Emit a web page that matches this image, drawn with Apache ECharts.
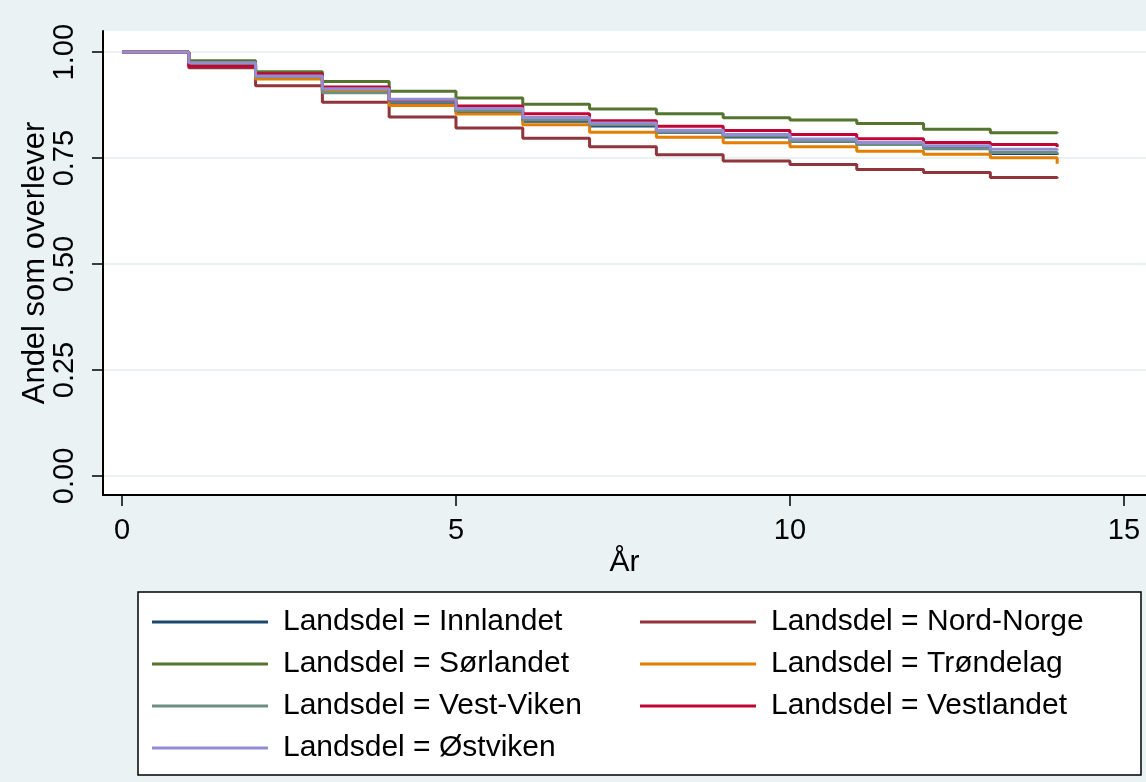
<!DOCTYPE html>
<html>
<head>
<meta charset="utf-8">
<script src="https://cdn.jsdelivr.net/npm/echarts@6/dist/echarts.min.js"></script>
<style>html,body{margin:0;padding:0;background:#eaf2f3}#c{width:1146px;height:782px}</style>
</head>
<body>
<div id="c"></div>
<script>
// Time points (years)
const years = [0, 1, 2, 3, 4, 5, 6, 7, 8, 9, 10, 11, 12, 13, 14];
// Kaplan-Meier survival estimates per region
const innlandet  = [1, 0.971, 0.941, 0.910, 0.882, 0.859, 0.837, 0.826, 0.811, 0.800, 0.790, 0.783, 0.775, 0.761, 0.758];
const nordNorge  = [1, 0.963, 0.921, 0.882, 0.847, 0.821, 0.797, 0.777, 0.758, 0.743, 0.735, 0.723, 0.716, 0.704, 0.702];
const sorlandet  = [1, 0.980, 0.954, 0.931, 0.908, 0.892, 0.877, 0.866, 0.855, 0.845, 0.840, 0.832, 0.818, 0.810, 0.808];
const trondelag  = [1, 0.969, 0.937, 0.908, 0.874, 0.854, 0.829, 0.811, 0.799, 0.786, 0.777, 0.766, 0.759, 0.751, 0.737];
const vestViken  = [1, 0.972, 0.942, 0.904, 0.884, 0.862, 0.840, 0.829, 0.812, 0.802, 0.791, 0.782, 0.772, 0.763, 0.760];
const vestlandet = [1, 0.967, 0.949, 0.918, 0.888, 0.873, 0.855, 0.838, 0.825, 0.815, 0.806, 0.796, 0.787, 0.782, 0.776];
const ostviken   = [1, 0.975, 0.944, 0.914, 0.889, 0.867, 0.846, 0.833, 0.816, 0.806, 0.795, 0.787, 0.779, 0.771, 0.768];

const seriesNames = ['Landsdel = Innlandet', 'Landsdel = Nord-Norge', 'Landsdel = Sørlandet', 'Landsdel = Trøndelag',
                     'Landsdel = Vest-Viken', 'Landsdel = Vestlandet', 'Landsdel = Østviken'];
const seriesValues = [innlandet, nordNorge, sorlandet, trondelag, vestViken, vestlandet, ostviken];
const seriesColors = ['#1a476f', '#90353b', '#55752f', '#e37e00', '#6e8e84', '#c10534', '#938dd2'];

const xTicks = [0, 5, 10, 15];
const yTicks = [0, 0.25, 0.5, 0.75, 1];

const FONT = 'Liberation Sans, Arial, sans-serif';

const chart = echarts.init(document.getElementById('c'), null, {renderer: 'canvas'});
const option = {
  backgroundColor: '#eaf2f3',
  animation: false,
  textStyle: {fontFamily: FONT},
  grid: {left: 103, top: 31, right: 0, bottom: 287, show: true, backgroundColor: '#ffffff', borderWidth: 0},
  xAxis: {
    type: 'value', min: -0.284, max: 15.33,
    name: 'År', nameLocation: 'middle', nameGap: 53, nameMoveOverlap: false,
    nameTextStyle: {fontSize: 30, color: '#000', fontFamily: FONT},
    axisLine: {show: true, onZero: false, lineStyle: {color: '#000', width: 2}},
    axisTick: {show: true, length: 11, lineStyle: {color: '#000', width: 1.5}, customValues: xTicks},
    axisLabel: {fontSize: 29, color: '#000', margin: 21, customValues: xTicks, fontFamily: FONT},
    splitLine: {show: false}
  },
  yAxis: {
    type: 'value', min: -0.045, max: 1.05,
    name: 'Andel som overlever', nameLocation: 'middle', nameGap: 52, nameRotate: 90, nameMoveOverlap: false,
    nameTextStyle: {fontSize: 31, color: '#000', fontFamily: FONT},
    axisLine: {show: true, onZero: false, lineStyle: {color: '#000', width: 2}},
    axisTick: {show: true, length: 11, lineStyle: {color: '#000', width: 1.5}, customValues: yTicks},
    axisLabel: {fontSize: 29, color: '#000', margin: 24, rotate: 90, customValues: yTicks,
                formatter: v => v.toFixed(2), fontFamily: FONT},
    splitLine: {show: true, lineStyle: {color: '#eaf2f3', width: 2}}
  },
  legend: {
    left: 152, top: 607, width: 1000, orient: 'horizontal', padding: 0,
    itemWidth: 116, itemHeight: 3, icon: 'rect', itemGap: 12, selectedMode: false, z: 10,
    textStyle: {fontSize: 30, color: '#000', width: 345, padding: [0, 0, 0, 10], lineHeight: 30, fontFamily: FONT},
    data: seriesNames
  },
  graphic: [{
    type: 'rect', z: 0,
    shape: {x: 138, y: 592, width: 1003, height: 183},
    style: {fill: '#ffffff', stroke: '#000000', lineWidth: 1.5}
  }],
  series: seriesNames.map((name, i) => ({
    name: name,
    type: 'line',
    step: 'end',
    showSymbol: false,
    color: seriesColors[i],
    lineStyle: {width: 3, color: seriesColors[i]},
    itemStyle: {color: seriesColors[i]},
    data: years.map((t, j) => [t, seriesValues[i][j]])
  }))
};
chart.setOption(option);
</script>
</body>
</html>
